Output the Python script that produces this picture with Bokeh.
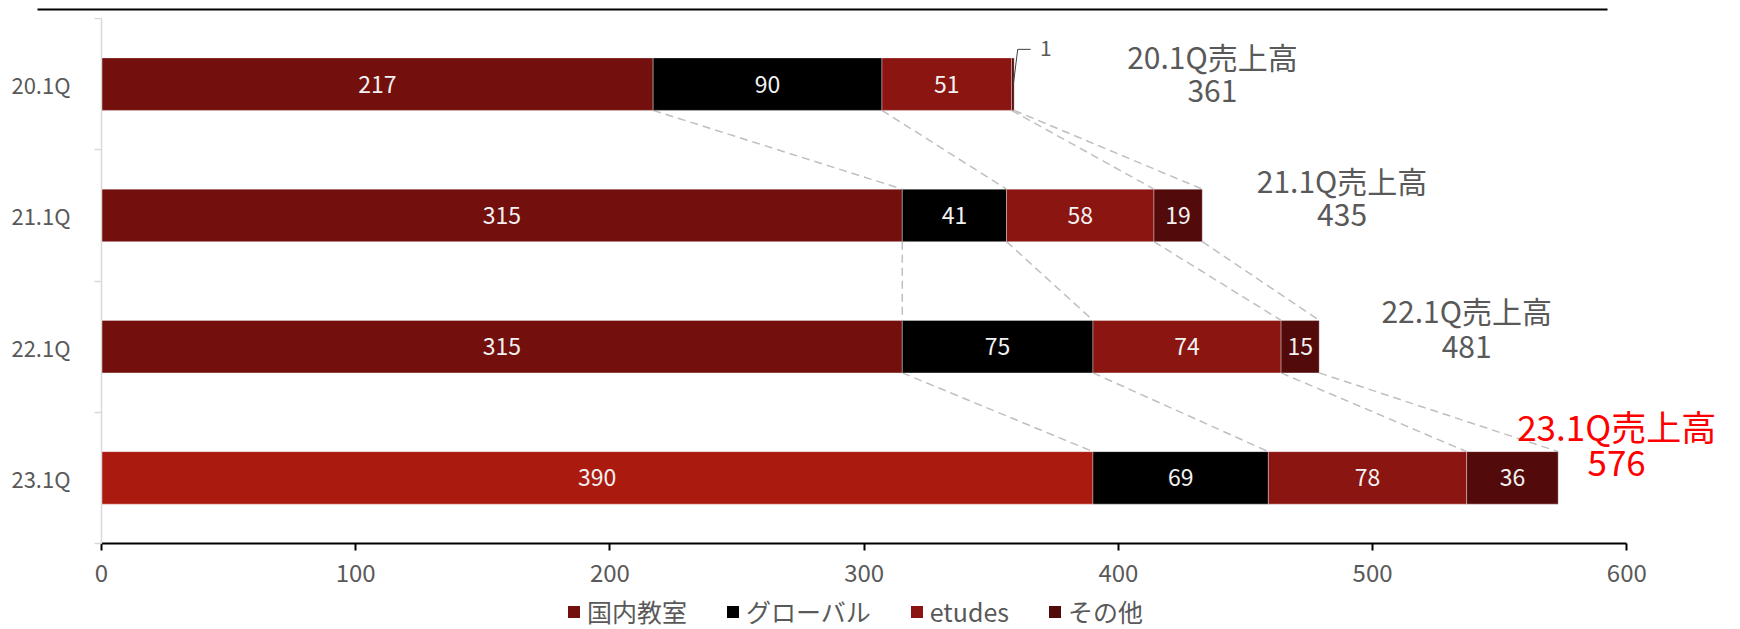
import numpy as np
from bokeh.plotting import figure
from bokeh.layouts import column
from bokeh.models import (ColumnDataSource, FixedTicker, Legend, LegendItem, Range1d)
from bokeh.core.properties import value
from bokeh.embed import file_html
from bokeh.resources import INLINE

# ---------------- data ----------------
quarters = ["20.1Q", "21.1Q", "22.1Q", "23.1Q"]
series_names = ["国内教室", "グローバル", "etudes", "その他"]
domestic = [217, 315, 315, 390]
global_biz = [90, 41, 75, 69]
etudes = [51, 58, 74, 78]
other = [1, 19, 15, 36]
total_titles = ["20.1Q売上高", "21.1Q売上高", "22.1Q売上高", "23.1Q売上高"]
total_values = [361, 435, 481, 576]
x_ticks = [0, 100, 200, 300, 400, 500, 600]

# ---------------- styles ----------------
FONT = value("Noto Sans CJK JP")
GRAY = "#595959"
domestic_colors = ["#73100D", "#73100D", "#73100D", "#AB1A0F"]
series_colors = ["#73100D", "#000000", "#8B1511", "#530A0A"]
BAR_H = 0.4

ypos = [3, 2, 1, 0]  # 20.1Q on top
vals = np.array([domestic, global_biz, etudes, other], dtype=float)
right = np.cumsum(vals, axis=0)
left = right - vals

# thin strip on top holding the decorative rule
top = figure(width=1740, height=18, x_range=Range1d(0, 1740), y_range=Range1d(0, 18),
             output_backend="svg", toolbar_location=None, min_border=0,
             x_axis_location=None, y_axis_location=None, frame_align=False)
top.grid.visible = False
top.outline_line_color = None
top.segment(x0=[37], y0=[9], x1=[1607], y1=[9], line_color="black", line_width=2)

p = figure(width=1740, height=575, x_range=Range1d(0, 640), y_range=Range1d(-0.5, 3.5),
           output_backend="svg", toolbar_location=None, frame_align=False,
           min_border_left=101, min_border_right=12, min_border_top=0, min_border_bottom=50)
p.grid.visible = False
p.outline_line_color = None

# connector dashed lines between cumulative boundaries
xs, ys = [], []
for s in range(4):
    for i in range(3):
        xs.append([right[s][i], right[s][i + 1]])
        ys.append([ypos[i] - BAR_H / 2, ypos[i + 1] + BAR_H / 2])
p.multi_line(xs=xs, ys=ys, line_color="#BFBFBF", line_width=1.5, line_dash="8 5")

for s in range(4):
    cols = domestic_colors if s == 0 else [series_colors[s]] * 4
    src = ColumnDataSource(dict(y=ypos, left=left[s], right=right[s], color=cols,
                                mid=(left[s] + right[s]) / 2,
                                lab=[str(int(v)) for v in vals[s]]))
    p.hbar(y="y", left="left", right="right", height=BAR_H, source=src,
           fill_color="color", line_color="white", line_alpha=0.35, line_width=1)
    inside = [i for i in range(4) if vals[s][i] >= 5]
    isrc = ColumnDataSource(dict(x=[src.data["mid"][i] for i in inside],
                                 y=[ypos[i] for i in inside],
                                 t=[src.data["lab"][i] for i in inside]))
    p.text(x="x", y="y", text="t", source=isrc, text_align="center", text_baseline="middle",
           text_color="#F2F2F2", text_font=FONT, text_font_size="23px")
    for i in range(4):
        if vals[s][i] < 5:
            x0 = right[s][i]
            y0 = ypos[i]
            p.line(x=[x0 - 0.3, x0 + 1.4, x0 + 6.5], y=[y0, y0 + 0.265, y0 + 0.265],
                   line_color="#404040", line_width=1)
            p.text(x=[x0 + 12.5], y=[y0 + 0.275], text=[str(int(vals[s][i]))],
                   text_align="center", text_baseline="middle", text_color=GRAY,
                   text_font=FONT, text_font_size="21px")

# total annotations
title_x = [437, 488, 537, 596]
title_dy = [0.215, 0.27, 0.28, 0.40]
value_dy = [-0.056, 0.0, 0.0, 0.115]
tcolors = [GRAY, GRAY, GRAY, "#FF0000"]
tsizes = ["30px", "30px", "30px", "35px"]
tsrc = ColumnDataSource(dict(x=title_x, y=[ypos[i] + title_dy[i] for i in range(4)],
                             t=total_titles, c=tcolors, fs=tsizes))
p.text(x="x", y="y", text="t", source=tsrc, text_align="center", text_baseline="middle",
       text_color="c", text_font=FONT, text_font_size="fs")
vsrc = ColumnDataSource(dict(x=title_x, y=[ypos[i] + value_dy[i] for i in range(4)],
                             t=[str(v) for v in total_values], c=tcolors, fs=tsizes))
p.text(x="x", y="y", text="t", source=vsrc, text_align="center", text_baseline="middle",
       text_color="c", text_font=FONT, text_font_size="fs")

# x axis
xa = p.xaxis[0]
xa.ticker = FixedTicker(ticks=x_ticks)
xa.bounds = (0, 600)
xa.axis_line_color = "black"
xa.axis_line_width = 2
xa.major_tick_line_color = "black"
xa.major_tick_line_width = 2
xa.major_tick_out = 7
xa.major_tick_in = 0
xa.minor_tick_line_color = None
xa.major_label_text_font = "Noto Sans CJK JP"
xa.major_label_text_font_size = "24px"
xa.major_label_text_color = GRAY
xa.major_label_standoff = 13

# y axis
ya = p.yaxis[0]
ya.ticker = FixedTicker(ticks=ypos, minor_ticks=[-0.5, 0.5, 1.5, 2.5, 3.5])
ya.major_label_overrides = {ypos[i]: quarters[i] for i in range(4)}
ya.major_tick_line_color = None
ya.minor_tick_line_color = "#D9D9D9"
ya.minor_tick_line_width = 1.5
ya.minor_tick_out = 7
ya.minor_tick_in = 0
ya.axis_line_color = "#D9D9D9"
ya.axis_line_width = 1.5
ya.major_label_text_font = "Noto Sans CJK JP"
ya.major_label_text_font_size = "22px"
ya.major_label_text_color = GRAY
ya.major_label_standoff = 24

# legend strip at the bottom (swatch renderers sit outside the visible range)
lg = figure(width=1740, height=36, x_range=Range1d(0, 1), y_range=Range1d(0, 1),
            output_backend="svg", toolbar_location=None, min_border=0,
            x_axis_location=None, y_axis_location=None, frame_align=False)
lg.grid.visible = False
lg.outline_line_color = None
items = []
for s in range(4):
    r = lg.hbar(y=[-5], left=[0], right=[1], height=0.5, fill_color=series_colors[s],
                line_color=None)
    items.append(LegendItem(label=series_names[s], renderers=[r]))
legend = Legend(items=items, orientation="horizontal", location=(566, 0),
                label_text_font="Noto Sans CJK JP", label_text_font_size="25px",
                label_text_color=GRAY, glyph_width=15, glyph_height=15,
                label_standoff=6, spacing=38, padding=0, margin=0,
                border_line_color=None, background_fill_alpha=0)
lg.add_layout(legend)

layout = column(top, p, lg, spacing=0)
open("out.html", "w").write(file_html(layout, INLINE))
